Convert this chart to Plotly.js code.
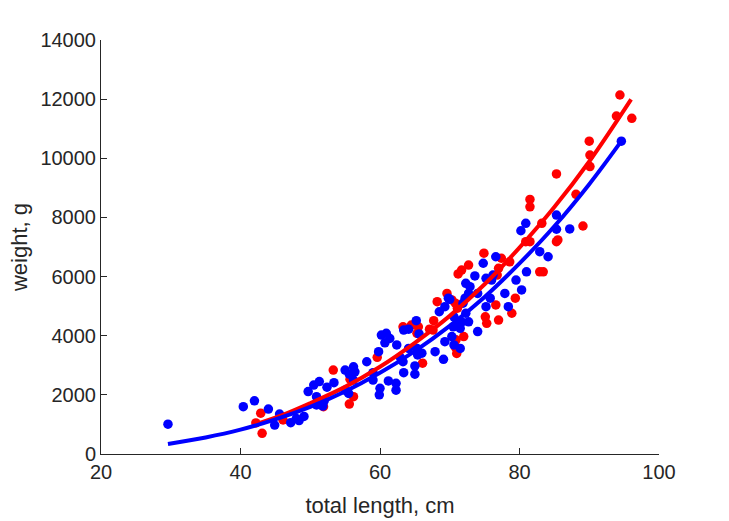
<!DOCTYPE html>
<html>
<head>
<meta charset="utf-8">
<script src="https://cdn.plot.ly/plotly-3.0.1.min.js"></script>
<style>html,body{margin:0;padding:0;background:#fff;}#chart{width:729px;height:521px;}</style>
</head>
<body>
<div id="chart"></div>
<script>
// Red group: total length (cm) and weight (g)
const redLength = [42.9,43.1,46.1,42.2,51.9,53.3,55.7,56.2,55.6,59.6,63.3,65.3,67.1,67.7,68.2,69.6,70.8,71.1,71.2,72.7,72.0,70.9,70.8,66.1,81.5,81.5,83.2,81.5,80.9,78.6,77.4,74.9,77.0,82.9,83.4,79.4,78.9,76.6,75.1,75.3,77.0,85.3,71.7,94.4,93.9,96.1,90.0,90.1,90.1,85.3,88.1,89.1,85.5,70.3,76.8,64.5,65.5,67.6,71.0];
const redWeight = [1380,700,1150,1050,1600,2840,2530,1940,1690,3270,4300,4080,4220,4510,5150,5430,5100,4930,6090,6390,3970,3860,3610,3070,8610,8360,7800,7180,7180,6500,6620,6790,6280,6160,6160,5270,4760,5040,4640,4420,4530,7180,6220,12140,11430,11350,10580,10110,9720,9470,8780,7710,7240,5210,6050,4360,4300,4190,3400];

// Blue group
const blueLength = [29.6,40.4,42.0,44.0,45.6,44.9,47.2,48.4,49.1,49.7,50.5,51.3,52.4,53.4,50.9,50.9,52.0,51.8,55.0,55.0,56.2,56.4,55.6,56.2,58.1,59.0,59.0,60.0,59.9,61.2,62.3,62.3,59.8,60.2,60.9,60.7,61.4,62.4,62.9,63.4,64.1,63.3,63.4,64.1,65.2,65.3,65.4,66.0,65.0,67.9,69.1,69.3,70.3,70.6,71.5,68.5,69.3,70.0,71.5,71.7,72.3,72.7,72.2,72.7,72.3,72.9,73.6,74.0,74.0,74.8,76.6,76.0,76.2,71.9,75.2,75.8,77.9,79.5,80.3,81.0,78.4,80.2,80.9,82.9,84.1,85.3,85.3,87.2,94.6,69.8,70.6,70.5,71.2,75.2,65.0,65.6,55.5,48.0];
const blueWeight = [1010,1600,1800,1520,1350,980,1060,1130,1270,2110,2330,2450,2260,2410,1940,1660,1800,1620,2160,2840,2950,2780,2700,2500,3120,2750,2500,2220,2000,2470,2390,2160,3460,4020,4080,3760,3910,3690,3270,4190,4220,3120,2750,3570,4510,3570,3350,3410,2980,3460,3200,3800,3970,3690,3570,4810,4980,5230,4250,4470,4760,4470,5270,5430,5770,5660,6020,4140,5430,6450,6670,5880,6050,5100,4980,5270,5430,5880,5550,6160,4980,7550,7800,6840,6670,8080,7600,7610,10580,5270,4640,4300,4420,5940,2700,4060,2050,1200];

// Fitted curves, values
const redCurveLength = [42.2,46,50,55,60,65,70,75,80,85,90,96];
const redCurveWeight = [1010,1315,1717,2270,2950,3760,4670,5740,6980,8350,9890,11990];
const blueCurveLength = [29.6,35,40,45,50,55,60,65,70,75,80,85,90,94.6];
const blueCurveWeight = [340,560,824,1170,1597,2115,2745,3480,4333,5310,6445,7700,9125,10580];

// Axis ticks
const xTicks = [20,40,60,80,100];
const yTicks = [0,2000,4000,6000,8000,10000,12000,14000];

const RED = '#ff0000', BLUE = '#0000ff', AX = '#262626';
const FONT = 'Liberation Sans, Arial, Helvetica, sans-serif';

const traces = [
  {x: redLength, y: redWeight, type: 'scatter', mode: 'markers',
   marker: {color: RED, size: 9.5, line: {width: 0}}, hoverinfo: 'skip'},
  {x: blueLength, y: blueWeight, type: 'scatter', mode: 'markers',
   marker: {color: BLUE, size: 9.5, line: {width: 0}}, hoverinfo: 'skip'},
  {x: redCurveLength, y: redCurveWeight, type: 'scatter', mode: 'lines',
   line: {color: RED, width: 4, shape: 'spline'}, hoverinfo: 'skip'},
  {x: blueCurveLength, y: blueCurveWeight, type: 'scatter', mode: 'lines',
   line: {color: BLUE, width: 4, shape: 'spline'}, hoverinfo: 'skip'}
];

const layout = {
  width: 729, height: 521,
  margin: {l: 101, r: 70, t: 40, b: 67},
  paper_bgcolor: '#ffffff', plot_bgcolor: '#ffffff',
  showlegend: false,
  font: {family: FONT, color: AX, size: 20},
  xaxis: {
    range: [20, 100], tickvals: xTicks, ticktext: xTicks.map(String),
    showline: true, linecolor: AX, linewidth: 1, mirror: false,
    ticks: 'inside', ticklen: 6, tickcolor: AX, tickwidth: 1,
    showgrid: false, zeroline: false,
    tickfont: {family: FONT, size: 20, color: AX},
    title: {text: 'total length, cm', font: {family: FONT, size: 22, color: AX}, standoff: 15}
  },
  yaxis: {
    range: [0, 14000], tickvals: yTicks, ticktext: yTicks.map(String),
    showline: true, linecolor: AX, linewidth: 1, mirror: false,
    ticks: 'inside', ticklen: 6, tickcolor: AX, tickwidth: 1,
    showgrid: false, zeroline: false,
    tickfont: {family: FONT, size: 20, color: AX},
    title: {text: 'weight, g', font: {family: FONT, size: 22, color: AX}, standoff: 6}
  }
};

Plotly.newPlot('chart', traces, layout, {staticPlot: true, displayModeBar: false});
</script>
</body>
</html>
